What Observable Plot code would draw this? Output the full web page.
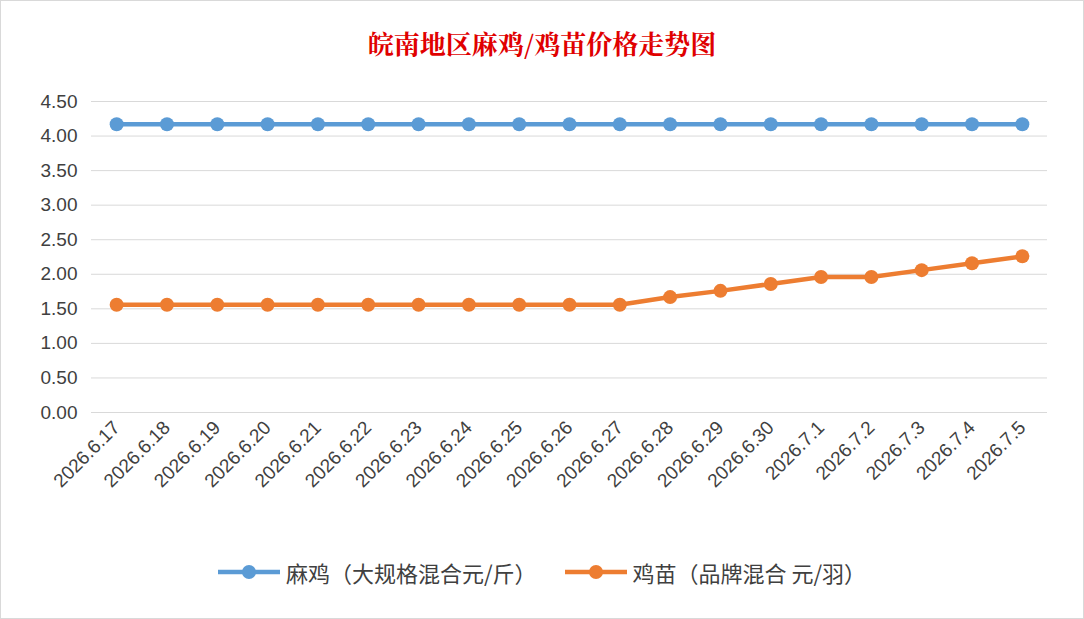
<!DOCTYPE html>
<html><head><meta charset="utf-8">
<script src="https://cdn.jsdelivr.net/npm/d3@7"></script>
<script src="https://cdn.jsdelivr.net/npm/@observablehq/plot@0.6"></script>
<style>
body{margin:0;background:#fff;font-family:"Noto Sans CJK SC",sans-serif;}
#wrap{position:relative;width:1082px;height:617px;border:1px solid #d9d9d9;overflow:hidden}
#title{height:80px;line-height:84px;text-align:center;color:#e00000;font-size:26px;font-family:"Noto Serif CJK SC","Noto Sans CJK SC",serif;font-weight:bold}
#legend{position:absolute;top:555px;left:0;width:1082px;text-align:center;font-size:22px;color:#404040}
.li{display:inline-flex;align-items:center;margin:0 14px}
.li svg{margin-right:6px}
</style></head><body>
<div id="wrap"><div id="title">皖南地区麻鸡/鸡苗价格走势图</div><div id="chart"></div>
<div id="legend"></div></div>
<script>
const dates=["2026.6.17","2026.6.18","2026.6.19","2026.6.20","2026.6.21","2026.6.22","2026.6.23","2026.6.24","2026.6.25","2026.6.26","2026.6.27","2026.6.28","2026.6.29","2026.6.30","2026.7.1","2026.7.2","2026.7.3","2026.7.4","2026.7.5"];
const maji=[4.17,4.17,4.17,4.17,4.17,4.17,4.17,4.17,4.17,4.17,4.17,4.17,4.17,4.17,4.17,4.17,4.17,4.17,4.17];
const jimiao=[1.56,1.56,1.56,1.56,1.56,1.56,1.56,1.56,1.56,1.56,1.56,1.67,1.76,1.86,1.96,1.96,2.06,2.16,2.26];
const yTicks=[0,0.5,1,1.5,2,2.5,3,3.5,4,4.5];
const seriesNames=["麻鸡（大规格混合元/斤）","鸡苗（品牌混合 元/羽）"];
const colors=["#5B9BD5","#ED7D31"];
const data=[];
dates.forEach((d,i)=>{data.push({d,v:maji[i],s:seriesNames[0]});data.push({d,v:jimiao[i],s:seriesNames[1]});});
const chart=Plot.plot({
  width:1082,height:470,marginTop:20,marginLeft:90,marginRight:36,marginBottom:139,
  style:{fontSize:"19px",color:"#404040",fontFamily:"Liberation Sans, Arial, sans-serif"},
  x:{type:"point",domain:dates,padding:0.5,round:false,label:null,tickRotate:-45,tickSize:0,tickPadding:12},
  y:{domain:[0,4.5],ticks:yTicks,tickFormat:d3.format(".2f"),label:null,tickSize:0,tickPadding:14},
  color:{domain:seriesNames,range:colors},
  marks:[
    Plot.gridY(yTicks,{stroke:"#d9d9d9",strokeOpacity:1}),
    Plot.line(data,{x:"d",y:"v",z:"s",stroke:"s",strokeWidth:4.5}),
    Plot.dot(data,{x:"d",y:"v",fill:"s",r:7})
  ]
});
document.getElementById("chart").appendChild(chart);
const lg=document.getElementById("legend");
seriesNames.forEach((n,i)=>{lg.innerHTML+=`<span class="li"><svg width="62" height="20"><line x1="0" x2="62" y1="10" y2="10" stroke="${colors[i]}" stroke-width="4.5"/><circle cx="31" cy="10" r="7" fill="${colors[i]}"/></svg>${n}</span>`;});
</script></body></html>
